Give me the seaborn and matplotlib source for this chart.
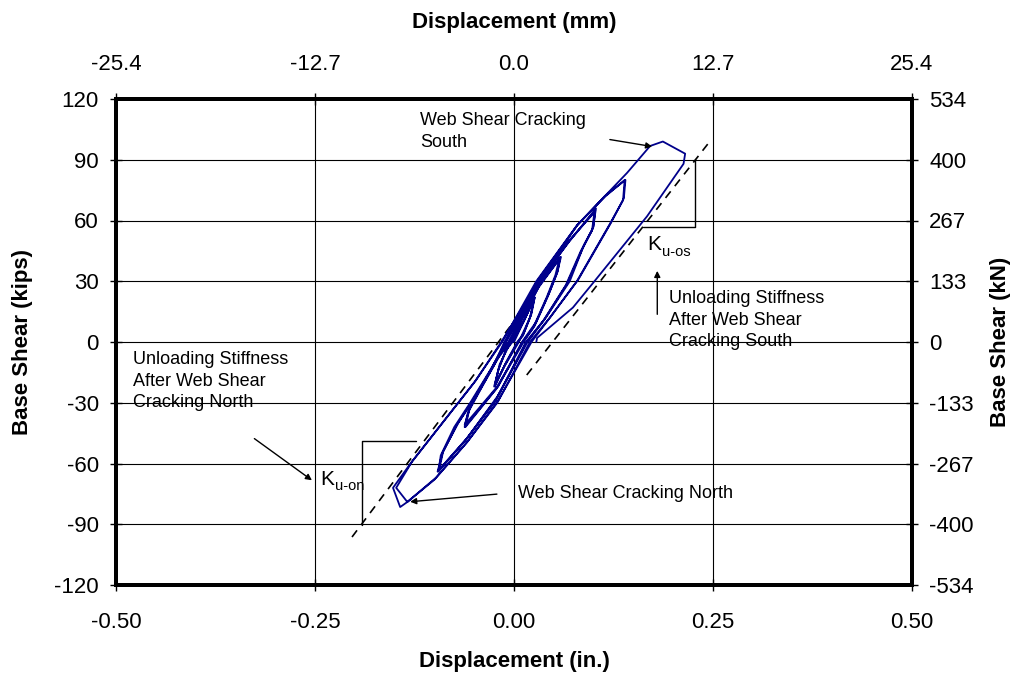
import matplotlib
matplotlib.use('Agg')
import matplotlib.pyplot as plt
import numpy as np
import pandas as pd
import seaborn as sns

sns.set_theme(style='white')
plt.rcParams['font.family'] = ['Liberation Sans', 'DejaVu Sans']
plt.rcParams.update({
    'axes.unicode_minus': False,
    'text.color': 'black',
    'axes.labelcolor': 'black',
    'axes.edgecolor': 'black',
    'xtick.color': 'black',
    'ytick.color': 'black',
})

# ── Data ──
# hysteresis trace, cycle by cycle: displacement (in.) / base shear (kips)
cyc22_x = [0.000, 0.012, 0.026, 0.022, 0.012, 0.004, -0.010, -0.024, -0.020, -0.010, -0.002,
           0.012, 0.025, 0.021, 0.011, 0.005, -0.011, -0.025, -0.019, -0.009, -0.003,
           0.013, 0.026, 0.020, 0.006, -0.012, -0.024, -0.018, -0.004]
cyc22_y = [0, 10, 22, 14, 4, 0, -10, -22, -14, -4, 0,
           10, 21, 13, 3, 0, -11, -22, -13, -3, 0,
           11, 22, 12, 0, -12, -21, -11, 0]

cyc42_x = [0.030, 0.058, 0.055, 0.045, 0.028, 0.010, -0.020, -0.062, -0.058, -0.040, -0.020, -0.005,
           0.032, 0.059, 0.054, 0.043, 0.026, 0.012, -0.022, -0.061, -0.056, -0.038, -0.018, -0.006,
           0.031, 0.057, 0.052, 0.041, 0.024, 0.011, -0.021, -0.062, -0.055, -0.036, -0.016, -0.007]
cyc42_y = [27, 42, 35, 25, 10, 0, -22, -42, -35, -22, -8, 0,
           28, 42, 34, 23, 8, 0, -23, -42, -33, -20, -6, 0,
           27, 41, 33, 22, 7, 0, -22, -41, -32, -19, -5, 0]

cyc65_x = [0.032, 0.070, 0.102, 0.100, 0.088, 0.070, 0.040, 0.015, -0.022, -0.060, -0.095,
           -0.092, -0.075, -0.055, -0.030, -0.010,
           0.030, 0.068, 0.103, 0.099, 0.086, 0.067, 0.038, 0.016, -0.023, -0.062, -0.096,
           -0.090, -0.072, -0.052, -0.028, -0.011,
           0.031, 0.069, 0.101, 0.098, 0.084, 0.065, 0.036, 0.017, -0.021, -0.058, -0.094,
           -0.089, -0.070, -0.050, -0.026, -0.012]
cyc65_y = [30, 50, 65, 57, 48, 30, 12, 0, -28, -48, -64,
           -56, -42, -30, -14, 0,
           29, 49, 66, 56, 46, 29, 11, 0, -29, -49, -64,
           -55, -41, -29, -13, 0,
           29, 50, 64, 55, 45, 28, 10, 0, -27, -47, -63,
           -54, -40, -28, -12, 0]

cyc80_x = [0.029, 0.080, 0.115, 0.139, 0.137, 0.120, 0.079, 0.045, 0.020, -0.021, -0.060, -0.100,
           -0.134, -0.143, -0.152, -0.130, -0.090, -0.050, -0.015,
           0.028, 0.078, 0.114, 0.140, 0.138, 0.122, 0.081, 0.047, 0.022, -0.020, -0.058, -0.098,
           -0.134, -0.148, -0.128, -0.088, -0.048, -0.016]
cyc80_y = [30, 58, 72, 80, 70, 58, 30, 12, 0, -30, -50, -68,
           -79, -81.5, -72, -60, -40, -20, 0,
           30, 57, 72, 80, 71, 59, 31, 13, 0, -29, -49, -67,
           -79, -72, -59, -39, -19, 0]

final_x = [0.028, 0.080, 0.142, 0.171, 0.187, 0.215, 0.213, 0.167, 0.099, 0.074, 0.029, 0.028]
final_y = [28, 58, 83.5, 96.8, 99, 93, 88, 62, 29, 17, 2, 0]

# unloading stiffness reference lines (dashed)
k_os_x = [0.016, 0.2475]
k_os_y = [-16.3, 99.8]
k_on_x = [-0.2035, 0.004]
k_on_y = [-96.3, 12.3]

# stiffness brackets
brk_os_x = [0.227, 0.227, 0.162]
brk_os_y = [90.4, 56.8, 56.8]
brk_on_x = [-0.123, -0.191, -0.191]
brk_on_y = [-48.9, -48.9, -90.4]

x_ticks = [-0.50, -0.25, 0.00, 0.25, 0.50]
x_tick_labels = ['-0.50', '-0.25', '0.00', '0.25', '0.50']
mm_tick_labels = ['-25.4', '-12.7', '0.0', '12.7', '25.4']
y_ticks = [-120, -90, -60, -30, 0, 30, 60, 90, 120]
kips_tick_labels = ['-120', '-90', '-60', '-30', '0', '30', '60', '90', '120']
kn_tick_labels = ['-534', '-400', '-267', '-133', '0', '133', '267', '400', '534']

df = pd.DataFrame({
    'disp': cyc22_x + cyc42_x + cyc65_x + cyc80_x + final_x,
    'shear': cyc22_y + cyc42_y + cyc65_y + cyc80_y + final_y,
})

# ── Plot ──
fig = plt.figure(figsize=(10.15, 6.77), dpi=100)
ax = fig.add_axes([116 / 1015, 1 - 585 / 677, 796 / 1015, 486 / 677])

sns.lineplot(data=df, x='disp', y='shear', sort=False, estimator=None,
             color='#00008B', linewidth=1.3, ax=ax, zorder=5)

ax.plot(k_os_x, k_os_y, color='black', linestyle=(0, (5, 4)), linewidth=1.2, zorder=4)
ax.plot(k_on_x, k_on_y, color='black', linestyle=(0, (5, 4)), linewidth=1.2, zorder=4)
ax.plot(brk_os_x, brk_os_y, color='black', linewidth=1.0, zorder=4)
ax.plot(brk_on_x, brk_on_y, color='black', linewidth=1.0, zorder=4)

ax.set_xlim(-0.5, 0.5)
ax.set_ylim(-120, 120)
ax.set_xticks(x_ticks)
ax.set_xticklabels(x_tick_labels)
ax.set_yticks(y_ticks)
ax.set_yticklabels(kips_tick_labels)
ax.grid(True, color='black', linewidth=0.8)
ax.set_axisbelow(True)

ax.tick_params(axis='both', direction='inout', length=9, width=1.0, labelsize=16,
               colors='black', bottom=True, left=True)
ax.tick_params(axis='x', pad=15)
ax.tick_params(axis='y', pad=8)

ax.set_xlabel('Displacement (in.)', fontsize=16, fontweight='bold', va='center')
ax.xaxis.set_label_coords(0.5, -0.158)
ax.set_ylabel('Base Shear (kips)', fontsize=16, fontweight='bold', va='center')
ax.yaxis.set_label_coords(-0.118, 0.5)

# secondary axes (mm, kN)
axt = ax.twiny()
axt.set_xlim(ax.get_xlim())
axt.set_xticks(x_ticks)
axt.set_xticklabels(mm_tick_labels)
axt.tick_params(axis='x', direction='inout', length=9, width=1.0, labelsize=16,
                colors='black', top=True, pad=13)
axt.set_xlabel('Displacement (mm)', fontsize=16, fontweight='bold', va='center')
axt.xaxis.set_label_coords(0.5, 1.158)

axr = ax.twinx()
axr.set_ylim(ax.get_ylim())
axr.set_yticks(y_ticks)
axr.set_yticklabels(kn_tick_labels)
axr.tick_params(axis='y', direction='inout', length=9, width=1.0, labelsize=16,
                colors='black', right=True, pad=8)
axr.set_ylabel('Base Shear (kN)', fontsize=16, fontweight='bold', va='center')
axr.yaxis.set_label_coords(1.1106, 0.5)
for a in (ax, axt, axr):
    for s in a.spines.values():
        s.set_linewidth(2.8)
        s.set_color('black')
for a in (axt, axr):
    a.grid(False)

# ── Annotations ──
arrow = dict(arrowstyle='-|>', color='black', lw=1.0, mutation_scale=9)
fs = 13

ax.annotate('', xy=(0.177, 96.3), xytext=(0.117, 100.2), arrowprops=arrow, zorder=6)
ax.text(-0.118, 113.6, 'Web Shear Cracking\nSouth', fontsize=fs, ha='left', va='top',
        linespacing=1.35)

ax.annotate('', xy=(0.18, 36.5), xytext=(0.18, 12.3), arrowprops=arrow)
ax.text(0.195, 25.7, 'Unloading Stiffness\nAfter Web Shear\nCracking South', fontsize=fs,
        ha='left', va='top', linespacing=1.35)

ax.annotate('', xy=(-0.251, -69.1), xytext=(-0.329, -46.9), arrowprops=arrow)
ax.text(-0.479, -4.5, 'Unloading Stiffness\nAfter Web Shear\nCracking North', fontsize=fs,
        ha='left', va='top', linespacing=1.35)

ax.annotate('', xy=(-0.134, -79), xytext=(-0.018, -75), arrowprops=arrow, zorder=6)
ax.text(0.005, -75, 'Web Shear Cracking North', fontsize=fs, ha='left', va='center')

ax.text(0.167, 45.4, 'K', fontsize=15, ha='left', va='baseline')
ax.annotate('u-os', xy=(0.167, 45.4), xytext=(11, -4), textcoords='offset points',
            fontsize=10.5, ha='left', va='baseline')
ax.text(-0.244, -70.5, 'K', fontsize=15, ha='left', va='baseline')
ax.annotate('u-on', xy=(-0.244, -70.5), xytext=(11, -4), textcoords='offset points',
            fontsize=10.5, ha='left', va='baseline')

fig.savefig('out.png', dpi=100, facecolor='white')
plt.close(fig)
